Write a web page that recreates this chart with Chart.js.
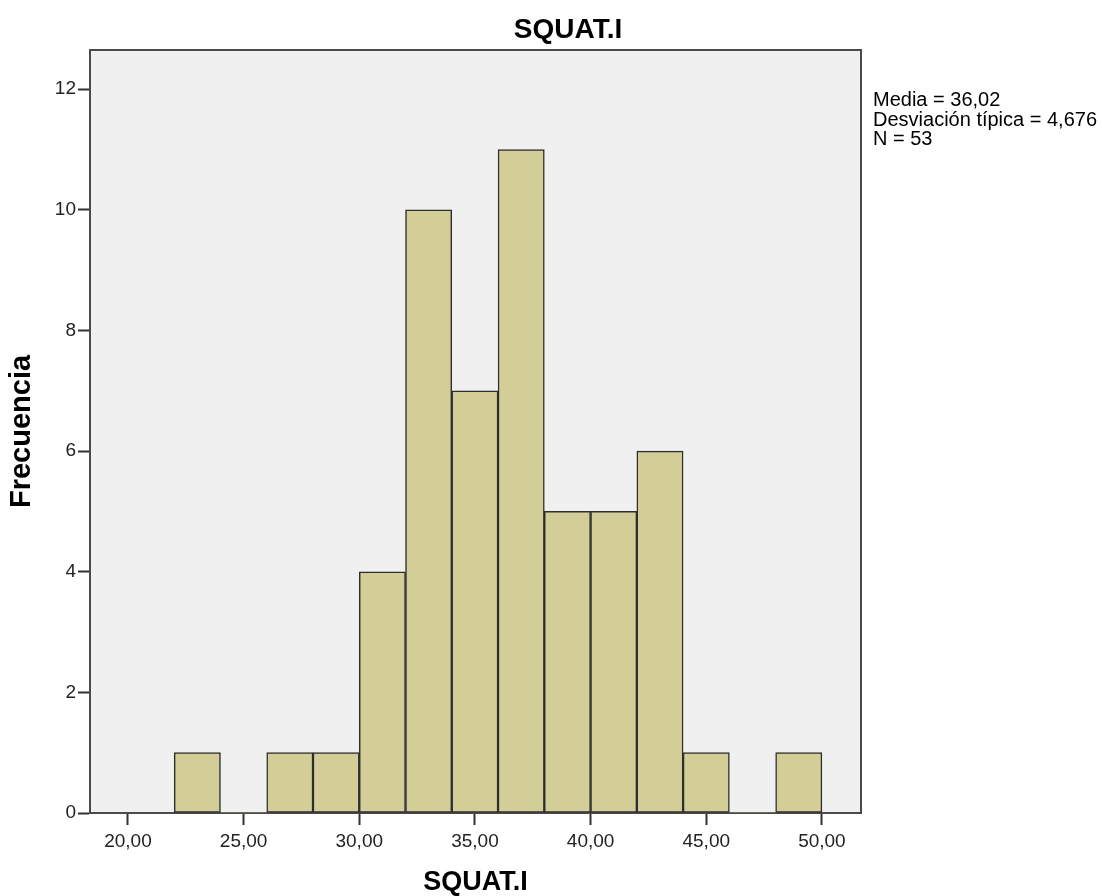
<!DOCTYPE html>
<html>
<head>
<meta charset="utf-8">
<title>SQUAT.I</title>
<script src="https://cdn.jsdelivr.net/npm/chart.js@4/dist/chart.umd.min.js"></script>
<style>
  html, body { margin: 0; padding: 0; background: #ffffff; }
  #wrap { width: 1102px; height: 896px; position: relative; }
</style>
</head>
<body>
<div id="wrap"><canvas id="squat-chart"></canvas></div>
<script>
// histogram bins (width 2) and their counts
let binCenters = [23, 25, 27, 29, 31, 33, 35, 37, 39, 41, 43, 45, 47, 49];
let binCounts = [1, 0, 1, 1, 4, 10, 7, 11, 5, 5, 6, 1, 0, 1];
let xTicks = [20, 25, 30, 35, 40, 45, 50];
let yTicks = [0, 2, 4, 6, 8, 10, 12];
let statLines = ["Media = 36,02", "Desviación típica = 4,676", "N = 53"];

Chart.defaults.font.family = "'Liberation Sans', Arial, sans-serif";
Chart.defaults.color = "#111";

let histData = binCenters.map((c, i) => ({ x: c, y: binCounts[i] }));

// plot background, frame, title and stats box
let spssDecor = {
  id: "spssDecor",
  beforeDraw(chart) {
    let { ctx, chartArea } = chart;
    ctx.save();
    ctx.fillStyle = "#f0f0f0";
    ctx.fillRect(chartArea.left, chartArea.top, chartArea.right - chartArea.left, chartArea.bottom - chartArea.top);
    ctx.restore();
  },
  afterDraw(chart) {
    let { ctx, chartArea } = chart;
    ctx.save();
    ctx.strokeStyle = "#4a4a4a";
    ctx.lineWidth = 2;
    ctx.beginPath();
    ctx.moveTo(chartArea.left, chartArea.top);
    ctx.lineTo(chartArea.right, chartArea.top);
    ctx.lineTo(chartArea.right, chartArea.bottom);
    ctx.stroke();

    ctx.fillStyle = "#000";
    ctx.font = "bold 28px 'Liberation Sans', Arial, sans-serif";
    ctx.textAlign = "center";
    ctx.textBaseline = "alphabetic";
    ctx.fillText("SQUAT.I", 568, 38);

    ctx.font = "20px 'Liberation Sans', Arial, sans-serif";
    ctx.textAlign = "left";
    statLines.forEach((line, i) => {
      ctx.fillText(line, chartArea.right + 12, 106 + i * 19.5);
    });
    ctx.restore();
  },
};

let squatChart = new Chart("squat-chart", {
  type: "bar",
  data: {
    datasets: [
      {
        label: "SQUAT.I",
        data: histData,
        backgroundColor: "#d3ce97",
        borderColor: "#2e2e2e",
        borderWidth: (c) => (c.raw && c.raw.y === 0 ? 0 : 1.5),
        borderSkipped: false,
        barPercentage: 1,
        categoryPercentage: 1,
      },
    ],
  },
  options: {
    responsive: true,
    maintainAspectRatio: false,
    animation: false,
    layout: {
      padding: { top: 50, right: 241, left: 0, bottom: 0 },
    },
    plugins: {
      legend: { display: false },
      tooltip: { enabled: false },
      title: { display: false },
    },
    scales: {
      x: {
        type: "linear",
        offset: false,
        min: 18.36,
        max: 51.69,
        afterBuildTicks: (scale) => {
          scale.ticks = xTicks.map((v) => ({ value: v }));
        },
        afterFit: (scale) => {
          scale.height = 83;
        },
        ticks: {
          autoSkip: false,
          maxRotation: 0,
          padding: 5,
          color: "#222",
          font: { size: 19 },
          callback: (v) => Number(v).toFixed(2).replace(".", ","),
        },
        grid: {
          display: true,
          drawOnChartArea: false,
          drawTicks: true,
          tickLength: 12,
          tickColor: "#333",
          tickWidth: 2,
          offset: false,
        },
        border: { display: true, color: "#4a4a4a", width: 2 },
        title: {
          display: true,
          text: "SQUAT.I",
          color: "#000",
          font: { size: 27, weight: "bold" },
          padding: { top: 0, bottom: -3 },
        },
      },
      y: {
        min: 0,
        max: 12.65,
        afterBuildTicks: (scale) => {
          scale.ticks = yTicks.map((v) => ({ value: v }));
        },
        afterFit: (scale) => {
          scale.width = 90;
        },
        ticks: {
          padding: 2,
          color: "#222",
          font: { size: 19 },
        },
        grid: {
          display: true,
          drawOnChartArea: false,
          drawTicks: true,
          tickLength: 12,
          tickColor: "#333",
          tickWidth: 2,
        },
        border: { display: true, color: "#4a4a4a", width: 2 },
        title: {
          display: true,
          text: "Frecuencia",
          color: "#000",
          font: { size: 29, weight: "bold" },
          padding: { top: 5, bottom: 0 },
        },
      },
    },
  },
  plugins: [spssDecor],
});
</script>
</body>
</html>
